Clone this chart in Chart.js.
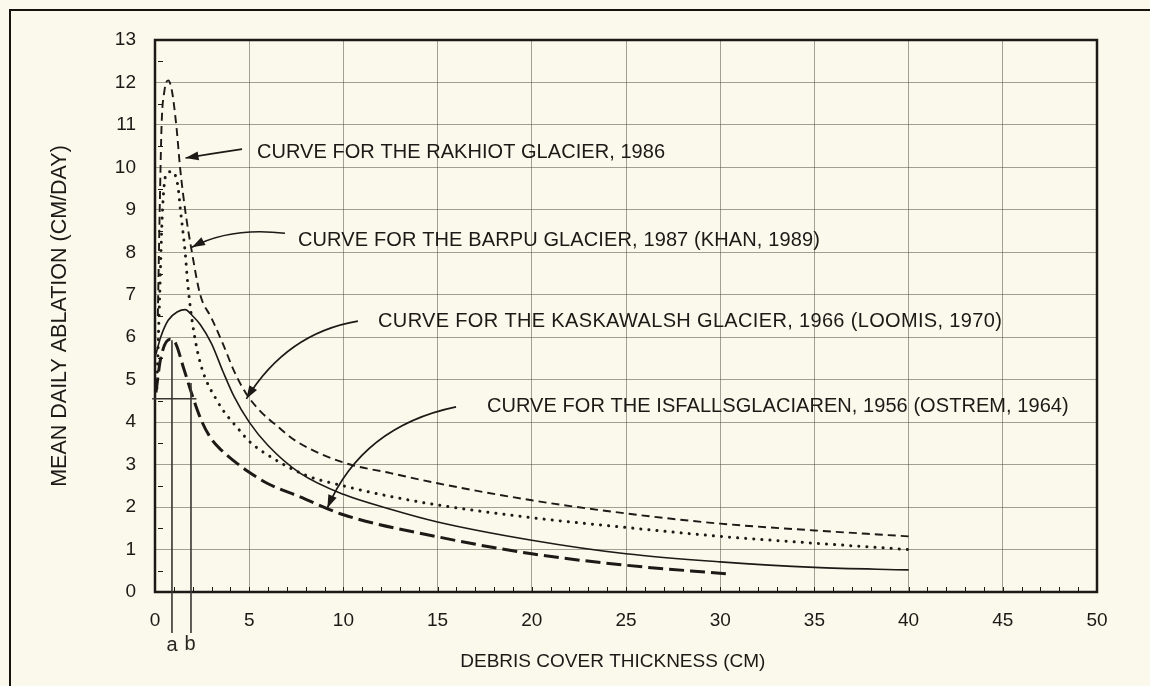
<!DOCTYPE html>
<html>
<head>
<meta charset="utf-8">
<title>Debris cover vs ablation</title>
<script src="https://cdn.jsdelivr.net/npm/chart.js@4.4.1/dist/chart.umd.min.js"></script>
<style>
  html, body { margin: 0; padding: 0; background: #fbf8ec; }
  #wrap { position: relative; width: 1150px; height: 686px; overflow: hidden; }
  #frame {
    position: absolute; left: 9px; top: 9px; width: 1200px; height: 700px;
    border-left: 2px solid #151210; border-top: 2px solid #151210;
    pointer-events: none;
  }
</style>
</head>
<body>
<div id="wrap">
  <canvas id="chart" width="1150" height="686"></canvas>
  <div id="frame"></div>
</div>
<script>
(function () {
  'use strict';

  // debris thickness (cm) / mean daily ablation (cm/day), one pair of arrays per glacier
  const rakhiotX = [0.15, 0.25, 0.35, 0.5, 0.7, 0.9, 1.15, 1.33, 1.6, 1.96, 2.4, 3.0, 3.6, 4.2, 4.8, 5.5, 6.5, 7.5, 10, 12.5, 15, 20, 25, 30, 35, 40];
  const rakhiotY = [6.5, 9.0, 11.0, 11.8, 12.05, 11.8, 10.9, 10.0, 9.0, 8.0, 7.0, 6.45, 5.85, 5.2, 4.7, 4.3, 3.9, 3.55, 3.05, 2.8, 2.56, 2.16, 1.85, 1.61, 1.45, 1.31];

  const barpuX = [0.1, 0.25, 0.4, 0.6, 0.9, 1.2, 1.35, 1.6, 1.75, 2.0, 2.4, 3.3, 4.5, 5.0, 5.9, 8.0, 10, 12.5, 15, 20, 25, 30, 35, 40];
  const barpuY = [4.8, 7.0, 9.0, 9.85, 9.9, 9.6, 9.0, 8.0, 7.2, 6.3, 5.4, 4.5, 3.8, 3.55, 3.25, 2.75, 2.5, 2.25, 2.05, 1.75, 1.52, 1.31, 1.15, 1.0];

  const kaskawalshX = [0.05, 0.3, 0.7, 1.2, 1.6, 2.0, 2.4, 3.0, 3.6, 4.2, 5.0, 6.0, 7.7, 10, 12.5, 15, 20, 25, 30, 35, 40];
  const kaskawalshY = [5.6, 6.0, 6.4, 6.6, 6.65, 6.5, 6.3, 5.85, 5.2, 4.6, 4.0, 3.45, 2.8, 2.3, 1.95, 1.65, 1.22, 0.9, 0.71, 0.58, 0.52];

  const isfallsX = [0.05, 0.3, 0.8, 1.1, 1.5, 2.0, 2.5, 3.0, 3.5, 4.15, 5.0, 6.0, 7.7, 10, 15, 20, 25, 30.3];
  const isfallsY = [4.7, 5.5, 5.95, 5.85, 5.3, 4.6, 4.0, 3.6, 3.35, 3.1, 2.82, 2.55, 2.24, 1.82, 1.3, 0.9, 0.63, 0.43];

  const xTicks = [0, 5, 10, 15, 20, 25, 30, 35, 40, 45, 50];
  const yTicks = [0, 1, 2, 3, 4, 5, 6, 7, 8, 9, 10, 11, 12, 13];

  // clean-ice level and the two critical thicknesses marked under the axis
  const cleanIce = 4.55;
  const critA = 0.9;
  const critB = 1.91;
  const critTopA = 5.93;
  const critTopB = 4.92;

  const notes = [
    'CURVE FOR THE RAKHIOT GLACIER, 1986',
    'CURVE FOR THE BARPU GLACIER, 1987 (KHAN, 1989)',
    'CURVE FOR THE KASKAWALSH GLACIER, 1966 (LOOMIS, 1970)',
    'CURVE FOR THE ISFALLSGLACIAREN, 1956 (OSTREM, 1964)',
  ];
  const xTitle = 'DEBRIS COVER THICKNESS (CM)';
  const yTitle = 'MEAN DAILY ABLATION (CM/DAY)';

  const INK = '#1c1916';
  const PAPER = '#fbf8ec';
  const FONT = '"Liberation Sans", Arial, sans-serif';

  // label anchors, set widths and arrow paths (start, bend, tip) in data units
  const noteLayout = [
    { at: [5.41, 10.36], width: 408, arrow: [[4.62, 10.43], [3.1, 10.33], [1.62, 10.22]] },
    { at: [7.59, 8.29], width: 522, arrow: [[6.9, 8.45], [4.0, 8.6], [1.96, 8.12]] },
    { at: [11.84, 6.36], width: 624, arrow: [[10.77, 6.38], [7.0, 6.1], [4.85, 4.55]] },
    { at: [17.62, 4.36], width: 582, arrow: [[15.98, 4.36], [11.0, 3.9], [9.15, 1.98]] },
  ];

  const pairs = (xs, ys) => xs.map((x, i) => ({ x: x, y: ys[i] }));

  function drawArrow(ctx, p0, p1, p2) {
    ctx.beginPath();
    ctx.moveTo(p0[0], p0[1]);
    ctx.quadraticCurveTo(p1[0], p1[1], p2[0], p2[1]);
    ctx.stroke();
    const ang = Math.atan2(p2[1] - p1[1], p2[0] - p1[0]);
    const len = 13, half = 4.5;
    ctx.beginPath();
    ctx.moveTo(p2[0], p2[1]);
    ctx.lineTo(p2[0] - len * Math.cos(ang) + half * Math.sin(ang),
               p2[1] - len * Math.sin(ang) - half * Math.cos(ang));
    ctx.lineTo(p2[0] - len * Math.cos(ang) - half * Math.sin(ang),
               p2[1] - len * Math.sin(ang) + half * Math.cos(ang));
    ctx.closePath();
    ctx.fill();
  }

  const paperDecor = {
    id: 'paperDecor',
    beforeDraw(chart) {
      const ctx = chart.ctx;
      ctx.save();
      ctx.fillStyle = PAPER;
      ctx.fillRect(0, 0, chart.width, chart.height);
      ctx.restore();
    },
    afterDatasetsDraw(chart) {
      const { ctx, chartArea: a, scales: { x, y } } = chart;
      const px = (v) => x.getPixelForValue(v);
      const py = (v) => y.getPixelForValue(v);
      ctx.save();

      // minor ticks: every cm along x, every half unit along y
      ctx.strokeStyle = INK;
      ctx.lineWidth = 1;
      ctx.beginPath();
      for (let v = 1; v < 50; v++) {
        ctx.moveTo(Math.round(px(v)) + 0.5, a.bottom);
        ctx.lineTo(Math.round(px(v)) + 0.5, a.bottom - 5);
      }
      for (let v = 0.5; v < 13; v += 1) {
        ctx.moveTo(a.left + 3, Math.round(py(v)) + 0.5);
        ctx.lineTo(a.left + 8, Math.round(py(v)) + 0.5);
      }
      ctx.stroke();

      // plot frame
      ctx.lineWidth = 2.5;
      ctx.strokeStyle = INK;
      ctx.strokeRect(a.left, a.top, a.right - a.left, a.bottom - a.top);

      // critical thickness construction lines
      ctx.strokeStyle = '#3a3632';
      ctx.lineWidth = 1.6;
      ctx.beginPath();
      ctx.moveTo(px(-0.15), py(cleanIce));
      ctx.lineTo(px(2.2), py(cleanIce));
      ctx.moveTo(px(critA), py(critTopA));
      ctx.lineTo(px(critA), a.bottom + 41);
      ctx.moveTo(px(critB), py(critTopB));
      ctx.lineTo(px(critB), a.bottom + 41);
      ctx.stroke();

      ctx.fillStyle = '#2a2622';
      ctx.font = '20px ' + FONT;
      ctx.textAlign = 'center';
      ctx.textBaseline = 'middle';
      ctx.fillText('a', px(critA), a.bottom + 53);
      ctx.fillText('b', px(critB) - 1, a.bottom + 52);

      // x axis title, set a little left of the plot centre
      ctx.fillStyle = INK;
      ctx.font = '19px ' + FONT;
      ctx.fillText(xTitle, px(24.3), a.bottom + 70);

      // curve labels with their arrows
      ctx.strokeStyle = INK;
      ctx.lineWidth = 1.6;
      ctx.font = '20px ' + FONT;
      ctx.textAlign = 'left';
      notes.forEach((txt, i) => {
        const n = noteLayout[i];
        ctx.letterSpacing = '0px';
        const w = ctx.measureText(txt).width;
        ctx.letterSpacing = Math.max(0, (n.width - w) / txt.length).toFixed(2) + 'px';
        ctx.fillText(txt, px(n.at[0]), py(n.at[1]));
        const pts = n.arrow.map((p) => [px(p[0]), py(p[1])]);
        drawArrow(ctx, pts[0], pts[1], pts[2]);
      });
      ctx.letterSpacing = '0px';
      ctx.restore();
    },
  };

  const gridColor = 'rgba(80, 70, 58, 0.5)';

  new Chart(document.getElementById('chart'), {
    type: 'scatter',
    data: {
      datasets: [
        {
          label: 'Rakhiot',
          data: pairs(rakhiotX, rakhiotY),
          borderColor: INK,
          borderWidth: 1.9,
          borderDash: [8, 5],
        },
        {
          label: 'Barpu',
          data: pairs(barpuX, barpuY),
          borderColor: INK,
          borderWidth: 3,
          borderDash: [0.1, 8],
          borderCapStyle: 'round',
        },
        {
          label: 'Kaskawalsh',
          data: pairs(kaskawalshX, kaskawalshY),
          borderColor: INK,
          borderWidth: 1.6,
        },
        {
          label: 'Isfallsglaciaren',
          data: pairs(isfallsX, isfallsY),
          borderColor: INK,
          borderWidth: 3,
          borderDash: [15, 6],
        },
      ].map((d) => Object.assign({
        showLine: true,
        pointRadius: 0,
        pointHoverRadius: 0,
        cubicInterpolationMode: 'monotone',
        fill: false,
      }, d)),
    },
    options: {
      responsive: false,
      animation: false,
      events: [],
      layout: { padding: { left: 0, top: 40, right: 53, bottom: 0 } },
      plugins: {
        legend: { display: false },
        tooltip: { enabled: false },
      },
      scales: {
        x: {
          type: 'linear',
          min: 0,
          max: 50,
          afterFit: (s) => { s.height = 94; },
          afterBuildTicks: (s) => { s.ticks = xTicks.map((v) => ({ value: v })); },
          grid: { color: gridColor, lineWidth: 1, drawTicks: false },
          border: { display: false },
          ticks: { color: INK, font: { family: FONT, size: 19 }, padding: 17, maxRotation: 0 },
        },
        y: {
          type: 'linear',
          min: 0,
          max: 13,
          afterFit: (s) => { s.width = 155; },
          afterBuildTicks: (s) => { s.ticks = yTicks.map((v) => ({ value: v })); },
          grid: { color: gridColor, lineWidth: 1, drawTicks: false },
          border: { display: false },
          ticks: { color: INK, font: { family: FONT, size: 19 }, padding: 19 },
          title: {
            display: true,
            text: yTitle,
            color: INK,
            font: { family: FONT, size: 21.5 },
            padding: { top: 47, bottom: 0 },
          },
        },
      },
    },
    plugins: [paperDecor],
  });
}());
</script>
</body>
</html>
